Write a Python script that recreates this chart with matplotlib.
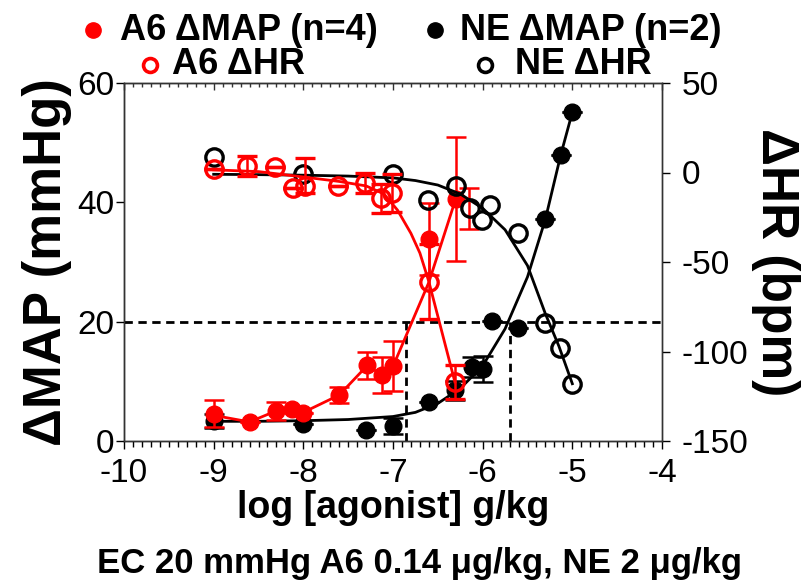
import matplotlib
matplotlib.use('Agg')
import matplotlib.pyplot as plt
import numpy as np
from matplotlib.ticker import MultipleLocator
from matplotlib.lines import Line2D

plt.rcParams['font.family'] = ['Liberation Sans', 'DejaVu Sans']
plt.rcParams['axes.unicode_minus'] = False

# A6 dMAP (mmHg), filled red
a6_map_x = [-9.0, -8.6, -8.31, -8.13, -8.0, -7.6, -7.29, -7.12, -7.0, -6.6, -6.3]
a6_map_y = [4.6, 3.2, 5.0, 5.4, 4.7, 7.7, 12.7, 11.1, 12.6, 33.9, 40.6]
a6_map_err = [2.2, 0, 1.5, 0, 0, 1.3, 2.3, 3.0, 4.2, 6.0, 10.4]
# line joining the A6 MAP means
a6_map_line_x = [-9.0, -8.6, -8.31, -8.13, -8.0, -7.6, -7.29, -7.12, -7.0, -6.6, -6.3]
a6_map_line_y = [4.3, 3.2, 5.0, 5.4, 4.8, 7.7, 12.6, 11.1, 12.5, 26.6, 40.6]
# stray error bar with no visible point
a6_map_extra_x = [-6.15]
a6_map_extra_y = [39.0]
a6_map_extra_err = [3.4]

# A6 dHR (bpm), open red
a6_hr_x = [-9.0, -8.63, -8.32, -8.11, -7.98, -7.61, -7.31, -7.13, -7.01, -6.6, -6.31]
a6_hr_y = [2.2, 3.4, 2.8, -8.4, -7.3, -7.3, -5.6, -14.5, -11.2, -61, -117]
a6_hr_err_lo = [0, 5.6, 0, 0, 3.9, 0, 5.6, 8.0, 10.6, 21, 9.5]
a6_hr_err_hi = [0, 5.6, 0, 0, 15.6, 0, 5.6, 8.0, 10.6, 21, 9.5]
a6_hr_fit_x = [-9.0, -8.5, -8.0, -7.6, -7.3, -7.1, -6.95, -6.8, -6.7, -6.6, -6.31]
a6_hr_fit_y = [1.5, 0.5, -2.5, -5.0, -7.5, -12, -21, -34, -45, -61, -117]

# NE dMAP (mmHg), filled black
ne_map_x = [-9.0, -8.0, -7.3, -7.0, -6.6, -6.31, -6.12, -6.0, -5.9, -5.61, -5.31, -5.13, -5.0]
ne_map_y = [3.3, 2.9, 1.8, 2.5, 6.5, 8.5, 12.4, 12.1, 20.1, 18.9, 37.2, 47.9, 55.1]
ne_map_err = [1.2, 0, 0, 1.3, 0, 1.6, 1.7, 2.2, 0, 0, 0, 0, 0]
ne_map_fit_x = [-9.0, -8.5, -8.0, -7.5, -7.0, -6.75, -6.5, -6.25, -6.0, -5.75, -5.5, -5.3, -5.13, -5.0]
ne_map_fit_y = [3.3, 3.3, 3.4, 3.6, 4.1, 4.8, 6.3, 8.8, 12.6, 18.8, 27.5, 37.2, 47.9, 55.1]

# NE dHR (bpm), open black
ne_hr_x = [-9.0, -8.0, -7.0, -6.61, -6.3, -6.14, -6.01, -5.92, -5.61, -5.31, -5.14, -5.0]
ne_hr_y = [8.4, -1.1, -0.6, -15.6, -7.8, -19.6, -26.3, -18.4, -34, -84, -98, -118]
ne_hr_fit_x = [-9.0, -8.5, -8.0, -7.5, -7.0, -6.75, -6.5, -6.25, -6.0, -5.75, -5.5, -5.3, -5.15, -5.0]
ne_hr_fit_y = [-1.0, -1.2, -1.5, -2.0, -3.0, -4.5, -7.0, -12, -20, -32, -52, -79, -97, -118]

# EC20 doses (ug/kg)
ec20_level = 20
ec20_a6 = 0.14
ec20_ne = 2.0

RED = '#ff0000'
BLACK = '#000000'

fig = plt.figure(figsize=(8.12, 5.88), dpi=100)
ax = fig.add_axes([124 / 812, 1 - 441 / 588, (662 - 124) / 812, (441 - 83) / 588])
ax2 = ax.twinx()

# dashed EC20 guides
ax.axhline(ec20_level, color=BLACK, lw=2, ls=(0, (3, 2)), zorder=1)
for dose in (ec20_a6, ec20_ne):
    ax.plot([np.log10(dose * 1e-6)] * 2, [0, ec20_level], color=BLACK, lw=2,
            ls=(0, (3, 2)), zorder=1)

# NE MAP
ax.plot(ne_map_fit_x, ne_map_fit_y, color=BLACK, lw=2, zorder=2)
ax.errorbar(ne_map_x, ne_map_y, yerr=ne_map_err, fmt='o', color=BLACK, ms=12,
            elinewidth=1.8, capsize=7, capthick=1.8, zorder=3)

# A6 MAP
ax.plot(a6_map_line_x, a6_map_line_y, color=RED, lw=2, zorder=4)
ax.errorbar(a6_map_x, a6_map_y, yerr=a6_map_err, fmt='o', color=RED, ms=12,
            elinewidth=1.8, capsize=7, capthick=1.8, zorder=5)
ax.errorbar(a6_map_extra_x, a6_map_extra_y, yerr=a6_map_extra_err, fmt='none',
            ecolor=RED, elinewidth=1.8, capsize=7, capthick=1.8, zorder=5)

# NE HR
ax2.plot(ne_hr_fit_x, ne_hr_fit_y, color=BLACK, lw=2, zorder=2)
ax2.plot(ne_hr_x, ne_hr_y, 'o', mfc='none', mec=BLACK, mew=2.4, ms=12.5, zorder=3)

# A6 HR
ax2.plot(a6_hr_fit_x, a6_hr_fit_y, color=RED, lw=2, zorder=4)
ax2.errorbar(a6_hr_x, a6_hr_y, yerr=[a6_hr_err_lo, a6_hr_err_hi], fmt='o', mfc='none',
             mec=RED, mew=2.4, ms=12.5, ecolor=RED, elinewidth=1.8, capsize=7,
             capthick=1.8, zorder=5)

ax.set_xlim(-10, -4)
ax.set_ylim(0, 60)
ax2.set_ylim(-150, 50)
ax.set_xticks(np.arange(-10, -3, 1))
ax.xaxis.set_minor_locator(MultipleLocator(0.1))
ax.set_yticks([0, 20, 40, 60])
ax2.set_yticks([-150, -100, -50, 0, 50])

spine_c = '#333333'
for a in (ax, ax2):
    for s in a.spines.values():
        s.set_color(spine_c)
        s.set_linewidth(1.0)
ax.spines['left'].set_color(BLACK)
ax.spines['bottom'].set_color(BLACK)

ax.tick_params(axis='x', which='major', direction='out', length=6, width=1,
               labelsize=24, pad=6)
ax.tick_params(axis='x', which='minor', direction='out', length=4, width=1)
ax.tick_params(axis='y', direction='out', length=6, width=1, labelsize=24, pad=1)
ax2.tick_params(axis='y', direction='out', length=6, width=1, labelsize=24, pad=8,
                colors=BLACK)
ax2.spines['right'].set_color(spine_c)

top = ax.secondary_xaxis('top')
top.set_xticks(np.arange(-10, -3, 1))
top.xaxis.set_minor_locator(MultipleLocator(0.1))
top.tick_params(axis='x', which='major', direction='in', length=5, width=1,
                labeltop=False, colors=spine_c)
top.tick_params(axis='x', which='minor', direction='in', length=3, width=1,
                colors=spine_c)
top.spines['top'].set_color(spine_c)

ax.set_ylabel('ΔMAP (mmHg)', fontsize=38, fontweight='bold', labelpad=4)
ax2.set_ylabel('ΔHR (bpm)', fontsize=37, fontweight='bold', rotation=270,
               labelpad=37)
ax.set_xlabel('log [agonist] g/kg', fontsize=27, fontweight='bold', labelpad=1)

fig.text(420 / 812, 1 - 563 / 588, 'EC 20 mmHg A6 0.14 μg/kg, NE 2 μg/kg',
         ha='center', va='center', fontsize=25, fontweight='bold')

# legend drawn by hand
legend_items = [
    (93, 30, 'o', RED, True, 'A6 ΔMAP (n=4)', 120),
    (435, 30, 'o', BLACK, True, 'NE ΔMAP (n=2)', 460),
    (150, 65, 'o', RED, False, 'A6 ΔHR', 172),
    (485, 65, 'o', BLACK, False, 'NE ΔHR', 515),
]
for mx, my, mk, c, filled, label, tx in legend_items:
    fig.add_artist(Line2D([mx / 812], [1 - my / 588], marker=mk, ls='none',
                          ms=11 if filled else 10,
                          mfc=c if filled else 'none', mec=c,
                          mew=1 if filled else 2.6,
                          transform=fig.transFigure))
    fig.text(tx / 812, 1 - my / 588, label, ha='left', va='center',
             fontsize=26, fontweight='bold')

fig.savefig('out.png', dpi=100)
